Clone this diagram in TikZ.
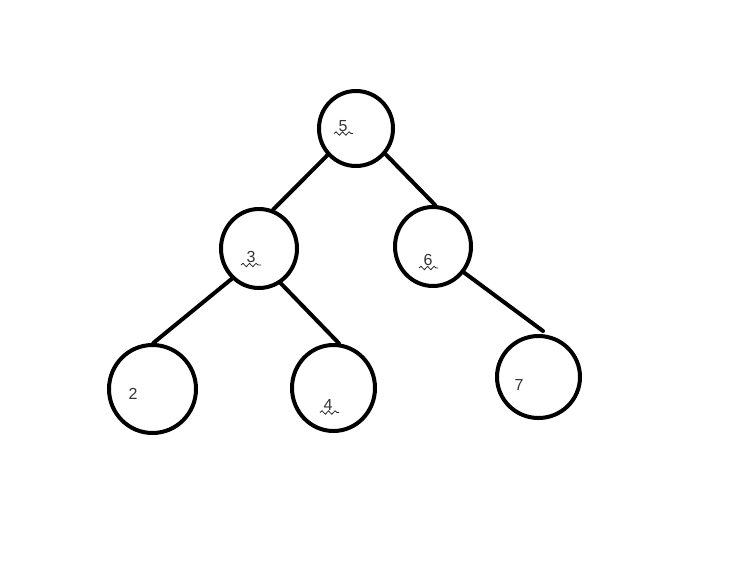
\documentclass[tikz,border=0pt]{standalone}
\usepackage{fontspec}
\setmainfont{Liberation Sans}
\usetikzlibrary{shapes.geometric,decorations.pathmorphing}
\tikzset{
  treenode/.style={draw=black, line width=4pt, ellipse, inner sep=0pt},
  numtext/.style={text=black!80, font=\fontsize{16}{16}\selectfont, inner sep=0pt, anchor=center},
  edge/.style={draw=black, line width=4pt, line cap=round},
  squiggle/.style={draw=black!85, line width=0.8pt, decorate, decoration={snake, amplitude=1.7pt, segment length=6.5pt}}
}
\begin{document}
\begin{tikzpicture}[x=1pt,y=-1pt]
\useasboundingbox (0,0) rectangle (742,582);
\fill[white] (0,0) rectangle (742,582);
% nodes
\node[treenode, minimum width=74pt, minimum height=75pt] (n5) at (356,128.5) {};
\node[treenode, minimum width=76pt, minimum height=79pt] (n3) at (259,248.5) {};
\node[treenode, minimum width=76pt, minimum height=79pt] (n6) at (433,246.5) {};
\node[treenode, minimum width=87pt, minimum height=88pt] (n2) at (152.5,389) {};
\node[treenode, minimum width=83pt, minimum height=86pt] (n4) at (333.5,388) {};
\node[treenode, minimum width=83pt, minimum height=82pt] (n7) at (538.5,377) {};
% labels
\node[numtext] (t5) at (343,126) {5};
\node[numtext] (t3) at (251,257) {3};
\node[numtext] (t6) at (428,260) {6};
\node[numtext] (t2) at (133,394) {2};
\node[numtext] (t4) at (328,405) {4};
\node[numtext] (t7) at (519,385) {7};
% squiggles
\draw[squiggle] (334,133.5) -- (353,133.5);
\draw[squiggle] (241,265) -- (261,265);
\draw[squiggle] (419,268) -- (438,268);
\draw[squiggle] (320,412.5) -- (339,412.5);
% edges
\coordinate (e7) at (543,331);
\draw[edge] (n5.223) -- (n3.70);
\draw[edge] (n5.319) -- (n6.87);
\draw[edge] (n3.228) -- (n2.89);
\draw[edge] (n3.302) -- (n4.83);
\draw[edge] (n6.320) -- (e7);
\end{tikzpicture}
\end{document}
